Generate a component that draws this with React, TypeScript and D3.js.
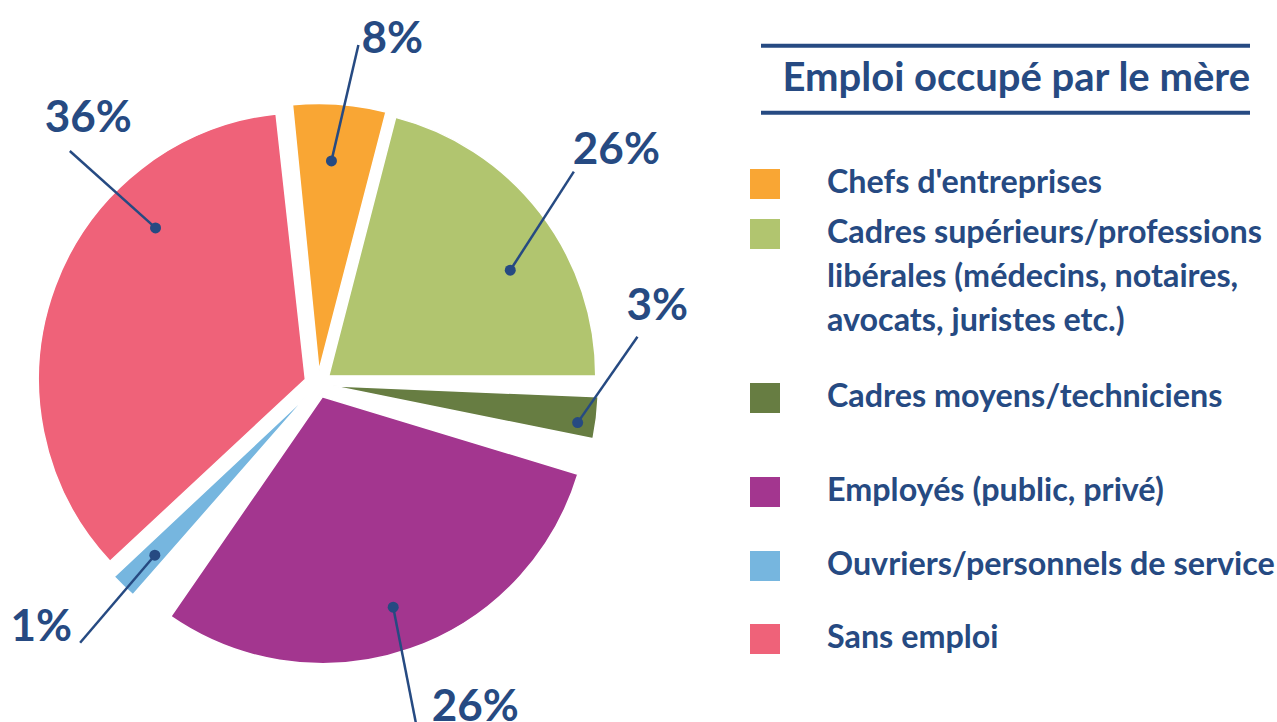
import React, { useEffect, useRef } from "react";
import * as d3 from "d3";

// categories in drawing order, clockwise from the top
const categories = [
  "Chefs d'entreprises",
  "Cadres supérieurs/professions libérales (médecins, notaires, avocats, juristes etc.)",
  "Cadres moyens/techniciens",
  "Employés (public, privé)",
  "Ouvriers/personnels de service",
  "Sans emploi",
];
// legend text, wrapped as in the picture
const legendLines = [
  ["Chefs d'entreprises"],
  ["Cadres supérieurs/professions", "libérales (médecins, notaires,", "avocats, juristes etc.)"],
  ["Cadres moyens/techniciens"],
  ["Employés (public, privé)"],
  ["Ouvriers/personnels de service"],
  ["Sans emploi"],
];
// slice sizes as drawn (%)
const shares = [5.7, 21.3, 3.6, 31.6, 2.5, 35.3];
// printed labels
const percentLabels = ["8%", "26%", "3%", "26%", "1%", "36%"];
const title = "Emploi occupé par le mère";

const colors = ["#F9A634", "#B1C56F", "#677D42", "#A3368F", "#76B6DF", "#EF6279"];
const ink = "#264A82";

const width = 1277;
const height = 722;
const cx = 318;
const cy = 384;
const radius = 267;
const explode = 13.5;
const startDeg = -6.0;
// white wedge (degrees) opened before each slice
const gapBefore = [0.6, 0, 2.3, 5.4, 6.6, 0.2];
// leader lines, polar [deg, r] from each slice's apex
const leaders = [
  { dot: [3.4, 210], end: [6.9, 328], dx: 3, dy: 8, anchor: "start" },
  { dot: [59.8, 210], end: [50.2, 319], dx: -1, dy: -8, anchor: "start" },
  { dot: [98.5, 249], end: [80.9, 310], dx: -11, dy: -17, anchor: "start" },
  { dot: [161.4, 222], end: [164, 339], dx: 16, dy: -2, anchor: "start" },
  { dot: [223.7, 223], end: [222.6, 338], dx: -8, dy: -2, anchor: "end" },
  { dot: [315.3, 213], end: [314.1, 328], dx: -25, dy: -19, anchor: "start" },
];
const legendTop = [169, 219, 383, 477, 551, 624];

const rad = (deg: number) => (deg * Math.PI) / 180;

const App = () => {
  const ref = useRef<SVGSVGElement>(null);

  useEffect(() => {
    const svg = d3.select(ref.current);
    svg.selectAll("*").remove();
    svg.attr("width", width).attr("height", height);

    const font = "Lato, 'Open Sans', sans-serif";

    const pie = d3
      .pie<number>()
      .sort(null)
      .value((d) => d)
      .startAngle(rad(startDeg))
      .endAngle(rad(startDeg) + 2 * Math.PI);
    const arcs = pie(shares);
    const arc = d3.arc<any>().innerRadius(0).outerRadius(radius);
    const n = arcs.length;

    const slices = svg.append("g");
    const notes = svg.append("g");

    arcs.forEach((a, i) => {
      const mid = (a.startAngle + a.endAngle) / 2;
      const ox = cx + explode * Math.sin(mid);
      const oy = cy - explode * Math.cos(mid);
      const s0 = a.startAngle + rad(gapBefore[i]) / 2;
      const s1 = a.endAngle - rad(gapBefore[(i + 1) % n]) / 2;

      slices
        .append("path")
        .attr("transform", `translate(${ox},${oy})`)
        .attr("d", arc({ startAngle: s0, endAngle: s1 }))
        .attr("fill", colors[i])
        .attr("stroke", "#fff")
        .attr("stroke-width", 1.5);

      const at = ([deg, r]: number[]) => [ox + r * Math.sin(rad(deg)), oy - r * Math.cos(rad(deg))];
      const L = leaders[i];
      const [x1, y1] = at(L.dot);
      const [x2, y2] = at(L.end);

      notes
        .append("line")
        .attr("x1", x1)
        .attr("y1", y1)
        .attr("x2", x2)
        .attr("y2", y2)
        .attr("stroke", ink)
        .attr("stroke-width", 2.5);
      notes.append("circle").attr("cx", x1).attr("cy", y1).attr("r", 5.5).attr("fill", ink);
      notes
        .append("text")
        .attr("x", x2 + L.dx)
        .attr("y", y2 + L.dy)
        .attr("text-anchor", L.anchor)
        .attr("font-family", font)
        .attr("font-weight", 700)
        .attr("font-size", 44)
        .attr("fill", ink)
        .text(percentLabels[i]);
    });

    // title block
    const t = svg.append("g");
    [45.7, 112.7].forEach((y) =>
      t.append("line").attr("x1", 761).attr("x2", 1250).attr("y1", y).attr("y2", y).attr("stroke", ink).attr("stroke-width", 4)
    );
    t.append("text")
      .attr("x", 1250)
      .attr("y", 91)
      .attr("text-anchor", "end")
      .attr("font-family", font)
      .attr("font-weight", 700)
      .attr("font-size", 40)
      .attr("fill", ink)
      .text(title);

    // legend
    const legend = svg.append("g");
    categories.forEach((c, i) => {
      legend.append("rect").attr("x", 750).attr("y", legendTop[i]).attr("width", 30).attr("height", 30).attr("fill", colors[i]);
      const txt = legend
        .append("text")
        .attr("font-family", font)
        .attr("font-weight", 700)
        .attr("font-size", 32.3)
        .attr("fill", ink);
      legendLines[i].forEach((line, j) => {
        txt.append("tspan").attr("x", 827).attr("y", legendTop[i] + 24 + j * 44).text(line);
      });
    });
  }, []);

  return (
    <div>
      <svg ref={ref} style={{ position: "absolute", left: 0, top: 0 }}></svg>
    </div>
  );
};

export default App;
